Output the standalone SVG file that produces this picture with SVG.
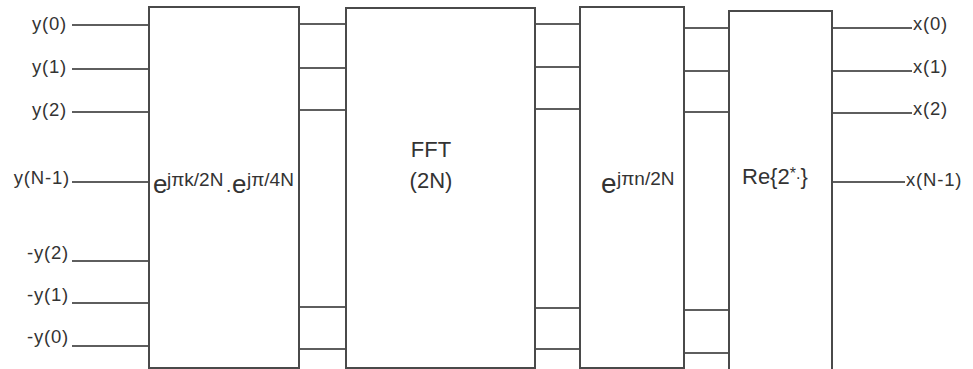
<svg xmlns="http://www.w3.org/2000/svg" width="973" height="369" viewBox="0 0 973 369">
<style>
.box{fill:#fff;stroke:#4a4a4a;stroke-width:2}
.ln{stroke:#2a2a2a;stroke-width:1.5;fill:none}
text{font-family:"Liberation Sans",Arial,sans-serif;fill:#333}
.lbl{font-size:18.5px;letter-spacing:0.8px}
.in{text-anchor:end}
.big{font-size:26px}
.sup{font-size:19px}
.mid{font-size:22px}
</style>
<rect width="973" height="369" fill="#fff"/>
<g id="connectors">
<path class="ln" d="M72 25H149M72 69H149M72 112H149M72 182H149M72 261H149M72 303H149M72 346H149"/>
<path class="ln" d="M299 24H346M299 68H346M299 110H346M299 307H346M299 349H346"/>
<path class="ln" d="M535 24H580M535 67H580M535 109H580M535 308H580M535 349H580"/>
<path class="ln" d="M684 28H729M684 71H729M684 112H729M684 310H729M684 353H729"/>
<path class="ln" d="M832 28H912M832 71H912M832 113H912M832 182H905"/>
</g>
<g id="inputs">
<text class="lbl in" x="67" y="30">y(0)</text>
<text class="lbl in" x="67" y="73">y(1)</text>
<text class="lbl in" x="67" y="116">y(2)</text>
<text class="lbl in" x="70" y="184">y(N-1)</text>
<text class="lbl in" x="69" y="259">-y(2)</text>
<text class="lbl in" x="69" y="301">-y(1)</text>
<text class="lbl in" x="69" y="343">-y(0)</text>
</g>
<g id="pre-twiddle">
<rect class="box" x="149" y="7" width="150" height="361"/>
<text x="153" y="193"><tspan class="big">e</tspan><tspan class="sup" x="167" y="186">jπk/2N</tspan><tspan class="sup" x="226" y="192">.</tspan><tspan class="big" x="232" y="193">e</tspan><tspan class="sup" x="247" y="186">jπ/4N</tspan></text>
</g>
<g id="fft">
<rect class="box" x="346" y="8" width="189" height="360"/>
<text class="mid" x="431" y="157" text-anchor="middle">FFT</text>
<text class="mid" x="431" y="188" text-anchor="middle">(2N)</text>
</g>
<g id="post-twiddle">
<rect class="box" x="580" y="7" width="104" height="361"/>
<text x="601" y="193"><tspan style="font-size:28px">e</tspan><tspan class="sup" x="617" y="185">jπn/2N</tspan></text>
</g>
<g id="real-part">
<rect class="box" x="729" y="11" width="103" height="362"/>
<text class="mid" x="742" y="184">Re{2<tspan style="font-size:16px" dy="-5">*.</tspan><tspan dy="5">}</tspan></text>
</g>
<g id="outputs">
<text class="lbl" x="913" y="30">x(0)</text>
<text class="lbl" x="913" y="73">x(1)</text>
<text class="lbl" x="913" y="115">x(2)</text>
<text class="lbl" x="906" y="186">x(N-1)</text>
</g>
</svg>
